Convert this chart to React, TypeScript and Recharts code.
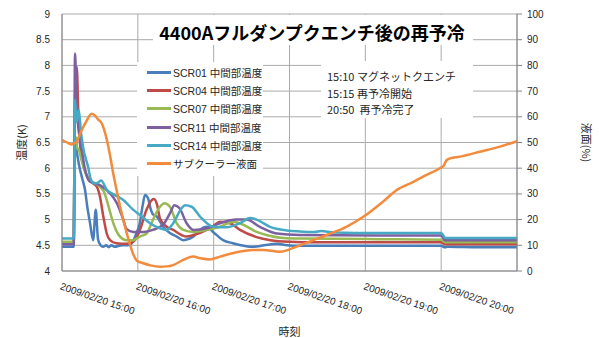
import React from 'react';
import { LineChart, Line, XAxis, YAxis, CartesianGrid, Legend } from 'recharts';

// time in minutes from 2009/02/20 15:00
const xTicks = [0, 60, 120, 180, 240, 300, 360];
const xTickLabels = [
  '2009/02/20 15:00',
  '2009/02/20 16:00',
  '2009/02/20 17:00',
  '2009/02/20 18:00',
  '2009/02/20 19:00',
  '2009/02/20 20:00',
  '',
];
const tempTicks = [4, 4.5, 5, 5.5, 6, 6.5, 7, 7.5, 8, 8.5, 9];
const levelTicks = [0, 10, 20, 30, 40, 50, 60, 70, 80, 90, 100];

const title = '4400Aフルダンプクエンチ後の再予冷';
const annotationLines = ['15:10 マグネットクエンチ', '15:15 再予冷開始', '20:50\u00a0\u00a0再予冷完了'];
const leftAxisTitle = '温度(K)';
const rightAxisTitle = '液面(%)';
const bottomAxisTitle = '時刻';

const scr01: [number, number][] = [
  [0, 4.47], [9.3, 4.47], [10, 6.6], [11.5, 6.35], [14, 6.0], [16, 5.8], [18.2, 5.58], [20, 5.25],
  [22.2, 4.93], [24.6, 4.6], [26.7, 5.19], [28.5, 4.62], [30.5, 4.5], [32.5, 4.47], [35, 4.5],
  [37, 4.46], [39, 4.5], [42, 4.47], [45, 4.49], [48, 4.5], [52, 4.5], [55, 4.53], [58, 4.68],
  [61.5, 4.93], [64, 5.3], [65.7, 5.48], [68, 5.42], [70, 5.22], [72, 5.1], [75, 5.06], [80, 4.86],
  [85.4, 4.74], [90.7, 4.67], [96, 4.6], [104, 4.67], [109, 4.8], [114.5, 4.86], [119.5, 4.76],
  [127.4, 4.6], [135.3, 4.54], [151, 4.47], [160, 4.5], [170, 4.53], [178, 4.5], [188, 4.49],
  [220, 4.49], [260, 4.49], [300, 4.49], [303, 4.46], [305, 4.47], [330, 4.46], [360, 4.46],
];
const scr04: [number, number][] = [
  [0, 4.54], [9.3, 4.54], [10.2, 7.2], [11.7, 7.97], [13, 7.0], [14.5, 6.4], [16.5, 6.1], [19, 5.9],
  [22, 5.76], [24.8, 5.7], [27.5, 5.64], [30, 5.45], [32.7, 5.06], [35.4, 4.73], [38, 4.6],
  [43, 4.54], [51, 4.53], [56.4, 4.57], [59, 4.65], [61.7, 4.8], [67, 5.2], [71, 5.38], [72.8, 5.4],
  [75.1, 5.3], [77.5, 5.02], [82.8, 4.86], [88, 4.8], [94.6, 4.7], [98.6, 4.67], [104, 4.7],
  [114.5, 4.8], [120, 4.88], [125, 4.96], [133, 4.93], [140.8, 4.8], [154, 4.66], [165, 4.6],
  [180, 4.57], [200, 4.56], [250, 4.56], [300, 4.56], [303, 4.52], [305, 4.52], [360, 4.52],
];
const scr07: [number, number][] = [
  [0, 4.57], [9.3, 4.57], [10.2, 6.3], [11, 6.6], [12, 6.4], [13.5, 6.35], [15, 6.2], [18, 5.95],
  [22, 5.75], [25, 5.72], [30, 5.64], [33, 5.55], [35.4, 5.38], [38, 5.15], [40.6, 4.93],
  [43, 4.78], [45.9, 4.67], [51, 4.6], [56.4, 4.6], [61.7, 4.67], [67, 4.73], [72, 5.0],
  [77.5, 5.25], [81, 5.32], [85.4, 5.25], [90.7, 4.93], [96, 4.8], [104, 4.76], [114.5, 4.8],
  [125, 4.86], [135.5, 4.96], [143.4, 4.9], [154, 4.76], [165, 4.68], [175, 4.64], [188, 4.63],
  [250, 4.62], [300, 4.61], [303, 4.56], [305, 4.56], [360, 4.56],
];
const scr11: [number, number][] = [
  [0, 4.52], [9.3, 4.52], [10.3, 8.23], [11.3, 7.5], [12.5, 6.9], [14, 6.6], [16, 6.3], [18, 6.0],
  [22, 5.74], [30, 5.67], [38, 5.51], [43.4, 5.32], [48.5, 5.0], [51, 4.82], [56.4, 4.76],
  [64.3, 4.76], [72, 4.8], [80, 4.9], [85.4, 5.12], [89, 5.28], [93, 5.22], [98.6, 4.93],
  [104, 4.8], [114.5, 4.83], [125, 4.93], [138, 5.0], [146, 5.0], [156.6, 4.86], [170, 4.73],
  [188, 4.7], [250, 4.69], [300, 4.69], [303, 4.6], [305, 4.6], [360, 4.6],
];
const scr14: [number, number][] = [
  [0, 4.63], [9.3, 4.63], [10.2, 7.33], [11.5, 6.9], [13.3, 7.13], [15, 6.7], [16.6, 6.42],
  [20.6, 6.03], [23, 5.77], [26, 5.7], [28.5, 5.72], [31, 5.76], [35.4, 5.58], [40, 5.5],
  [48.5, 5.38], [56.4, 5.19], [61.7, 5.09], [69.6, 4.93], [77.5, 4.83], [82.8, 4.8], [88, 4.93],
  [94.6, 5.22], [97.3, 5.28], [102.6, 5.25], [109.2, 5.06], [119.7, 4.86], [130.3, 4.85],
  [140.8, 4.93], [148.7, 5.03], [154, 5.0], [164.6, 4.86], [177.8, 4.79], [188, 4.77], [200, 4.76],
  [205, 4.78], [215, 4.75], [250, 4.74], [300, 4.74], [303, 4.65], [305, 4.64], [360, 4.64],
];
const subcoolerLevel: [number, number][] = [
  [0, 51], [4, 50], [7.4, 49.2], [11.3, 50.3], [15.3, 54.5], [19, 58], [23.5, 61.2], [26, 60.5],
  [28.5, 59], [31.4, 57.5], [35.5, 51], [38, 45], [40.5, 38], [43.4, 31], [46, 25], [50, 17],
  [52.5, 12.5], [56.4, 6.5], [59.3, 4], [64.3, 3], [70, 2.2], [77.5, 1.7], [83, 1.8], [88, 2.3],
  [96, 4.3], [103.9, 5.6], [109.2, 5], [117, 4.5], [125, 5.6], [135.5, 7], [151.3, 8.2], [159, 8.2],
  [172.5, 7.5], [185.7, 9.5], [198.8, 12], [212, 14.5], [225, 17.2], [238.4, 21.1], [254, 27],
  [264.8, 31.5], [278, 34.7], [288.5, 37.4], [299, 40], [302, 41], [304.4, 43.2], [307, 43.8],
  [314.9, 44.5], [330.7, 46.4], [346.5, 48.4], [360, 50.5],
];

const seriesNames = [
  'SCR01 中間部温度',
  'SCR04 中間部温度',
  'SCR07 中間部温度',
  'SCR11 中間部温度',
  'SCR14 中間部温度',
  'サブクーラー液面',
];
const seriesValues = [scr01, scr04, scr07, scr11, scr14, subcoolerLevel];
const seriesColors = ['#4A7EBB', '#BE4B48', '#98B954', '#7D60A0', '#46AAC5', '#F38B3C'];
const seriesAxis = ['temp', 'temp', 'temp', 'temp', 'temp', 'level'];

const LATIN = "'Liberation Sans', 'Noto Sans CJK JP', sans-serif";
const CJK = "'Noto Sans CJK JP', 'Liberation Sans', sans-serif";

const XTick = (props: any) => {
  const { x, y, payload } = props;
  const idx = xTicks.indexOf(payload.value);
  const label = idx >= 0 ? xTickLabels[idx] : '';
  const oy = y + 3;
  return (
    <text
      x={x}
      y={oy}
      dy="0.75em"
      transform={`rotate(19, ${x}, ${oy})`}
      textAnchor="start"
      fontSize={10}
      fontFamily={LATIN}
      fill="#262626"
    >
      {label}
    </text>
  );
};

const LegendBox = () => (
  <div style={{ background: '#fff', width: 126, height: 114, paddingTop: 1, boxSizing: 'border-box' }}>
    {seriesNames.map((n, i) => (
      <div key={n} style={{ display: 'flex', alignItems: 'center', height: 18.3 }}>
        <span style={{ display: 'inline-block', width: 24, height: 3, background: seriesColors[i], marginLeft: 10, marginRight: 2 }} />
        <span style={{ fontSize: 10.5, fontFamily: LATIN, color: '#262626', whiteSpace: 'nowrap' }}>{n}</span>
      </div>
    ))}
  </div>
);

export default function App() {
  return (
    <div style={{ position: 'absolute', left: 0, top: 0, width: 599, height: 338, background: '#fff' }}>
      <LineChart width={599} height={338} margin={{ top: 14, right: 0, bottom: 0, left: 0 }}>
        <CartesianGrid stroke="#ababab" strokeWidth={1} yAxisId="temp" />
        <XAxis
          dataKey="t"
          type="number"
          domain={[0, 360]}
          ticks={xTicks}
          interval={0}
          height={67}
          tickLine={false}
          axisLine={{ stroke: '#868686' }}
          tick={<XTick />}
          label={{ value: bottomAxisTitle, position: 'insideBottom', offset: 2, fontSize: 11, fontFamily: CJK, fill: '#262626' }}
        />
        <YAxis
          yAxisId="temp"
          domain={[4, 9]}
          ticks={tempTicks}
          interval={0}
          width={62}
          tickLine={false}
          tickMargin={6}
          axisLine={{ stroke: '#868686' }}
          tick={{ fontSize: 10, fontFamily: LATIN, fill: '#262626' }}
          label={{ value: leftAxisTitle, angle: -90, position: 'insideLeft', offset: 22, fontSize: 11, fontFamily: CJK, fill: '#262626', style: { textAnchor: 'middle' } }}
        />
        <YAxis
          yAxisId="level"
          orientation="right"
          domain={[0, 100]}
          ticks={levelTicks}
          interval={0}
          width={82}
          tickSize={5}
          tickMargin={5}
          tickLine={{ stroke: '#868686' }}
          axisLine={{ stroke: '#868686' }}
          tick={{ fontSize: 10, fontFamily: LATIN, fill: '#262626' }}
          label={{ value: rightAxisTitle, angle: 90, position: 'insideRight', offset: 13, fontSize: 11, fontFamily: CJK, fill: '#262626', style: { textAnchor: 'middle' } }}
        />
        {seriesValues.map((vals, i) => (
          <Line
            key={seriesNames[i]}
            yAxisId={seriesAxis[i]}
            data={vals.map(([t, v]) => ({ t, v }))}
            dataKey="v"
            name={seriesNames[i]}
            type="monotone"
            stroke={seriesColors[i]}
            strokeWidth={2.5}
            dot={false}
            activeDot={false}
            isAnimationActive={false}
          />
        ))}
        <Legend
          layout="vertical"
          align="center"
          verticalAlign="middle"
          content={() => <LegendBox />}
          wrapperStyle={{ left: 137, top: 62, width: 126, height: 114 }}
        />
      </LineChart>
      <svg width={599} height={338} style={{ position: 'absolute', left: 0, top: 0, pointerEvents: 'none' }}>
        <rect x={153} y={15} width={320} height={30} fill="#fff" />
        <text x={312} y={32} textAnchor="middle" dominantBaseline="central" fontSize={18} fontWeight="bold" fontFamily={CJK} fill="#000">
          {title}
        </text>
        <rect x={321} y={61} width={152} height={57} fill="#fff" />
        {annotationLines.map((s, i) => (
          <text key={s} x={327} y={76 + i * 16.5} dominantBaseline="central" fontSize={11} fontFamily={CJK} fill="#262626">
            {s}
          </text>
        ))}
      </svg>
    </div>
  );
}
